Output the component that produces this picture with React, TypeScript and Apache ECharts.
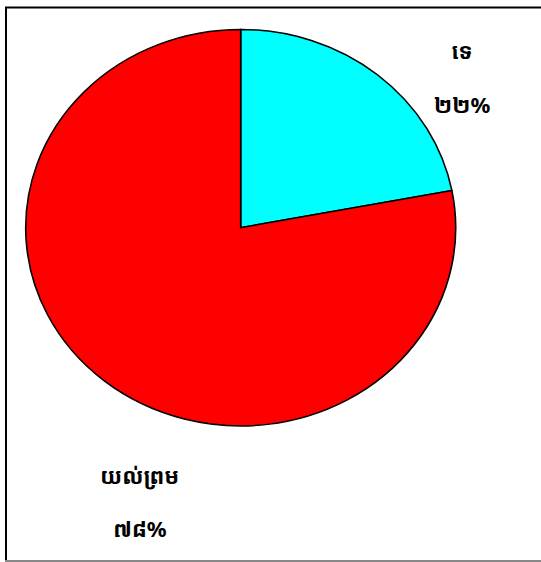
import React, { useEffect, useRef } from "react";
import * as echarts from "echarts";

const categories = ["ទេ", "យល់ព្រម"];
const values = [22, 78];
const percentLabels = ["២២%", "៧៨%"];
const colors = ["#00FFFF", "#FF0000"];

const KHMER_FONT = '"Noto Sans Khmer", "Khmer OS", "Khmer OS System", "Noto Serif Khmer", "DejaVu Sans", sans-serif';

export default function App() {
  const ref = useRef<HTMLDivElement>(null);
  useEffect(() => {
    if (!ref.current) return;
    const chart = echarts.init(ref.current, null, { renderer: "svg" });
    const total = values.reduce((a, b) => a + b, 0);
    const cx = 240.7;
    const cy = 227.7;
    const rx = 215;
    const ry = 198.3;
    const labelPos = [
      [462, 50, 462, 104],
      [140, 475, 140, 528],
    ];
    const seriesData = categories.map((name, i) => ({ name, value: values[i] }));
    chart.setOption({
      animation: false,
      backgroundColor: "#ffffff",
      series: [
        {
          type: "custom",
          coordinateSystem: "none",
          data: seriesData,
          renderItem: (params: any, api: any) => {
            const idx = params.dataIndex;
            let before = 0;
            for (let k = 0; k < idx; k++) before += values[k];
            const v = api.value(0) as number;
            const start = -Math.PI / 2 + (before / total) * Math.PI * 2;
            const end = start + (v / total) * Math.PI * 2;
            return {
              type: "group",
              x: cx,
              y: cy,
              scaleY: ry / rx,
              children: [
                {
                  type: "sector",
                  shape: { cx: 0, cy: 0, r0: 0, r: rx, startAngle: start, endAngle: end, clockwise: true },
                  style: { fill: colors[idx], stroke: "#000000", lineWidth: 1.6 },
                },
              ],
            };
          },
          encode: { value: 0 },
          dimensions: ["value"],
        },
      ],
      graphic: [
        { type: "line", shape: { x1: 5, y1: 7.5, x2: 541, y2: 7.5 }, style: { stroke: "#000", lineWidth: 2 } },
        { type: "line", shape: { x1: 6, y1: 7, x2: 6, y2: 562 }, style: { stroke: "#000", lineWidth: 2 } },
        { type: "line", shape: { x1: 5, y1: 561, x2: 541, y2: 561 }, style: { stroke: "#888", lineWidth: 2 } },
        ...categories.flatMap((c, i) => [
          {
            type: "text",
            x: labelPos[i][0],
            y: labelPos[i][1],
            style: {
              text: c,
              fill: "#000",
              font: `bold 22px ${KHMER_FONT}`,
              align: "center",
              verticalAlign: "middle",
            },
          },
          {
            type: "text",
            x: labelPos[i][2],
            y: labelPos[i][3],
            style: {
              text: percentLabels[i],
              fill: "#000",
              font: `bold 22px ${KHMER_FONT}`,
              align: "center",
              verticalAlign: "middle",
            },
          },
        ]),
      ],
    });
    return () => chart.dispose();
  }, []);
  return (
    <div
      ref={ref}
      style={{ position: "absolute", left: 0, top: 0, width: 541, height: 562 }}
    />
  );
}
